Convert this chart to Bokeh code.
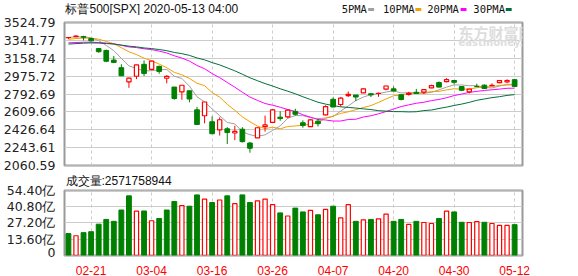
import numpy as np
from bokeh.plotting import figure
from bokeh.layouts import column
from bokeh.models import Range1d, FixedTicker, CustomJSTickFormatter, Label, AllLabels
from bokeh.core.properties import value
from bokeh.embed import file_html
from bokeh.resources import INLINE

title_text = "标普500[SPX] 2020-05-13 04:00"
last_volume = 2571758944

dates = ["02-18", "02-19", "02-20", "02-21", "02-24", "02-25", "02-26", "02-27", "02-28",
         "03-02", "03-03", "03-04", "03-05", "03-06", "03-09", "03-10", "03-11", "03-12", "03-13",
         "03-16", "03-17", "03-18", "03-19", "03-20", "03-23", "03-24", "03-25", "03-26", "03-27",
         "03-30", "03-31", "04-01", "04-02", "04-03", "04-06", "04-07", "04-08", "04-09",
         "04-13", "04-14", "04-15", "04-16", "04-17", "04-20", "04-21", "04-22", "04-23", "04-24",
         "04-27", "04-28", "04-29", "04-30", "05-01", "05-04", "05-05", "05-06", "05-07", "05-08",
         "05-11", "05-12"]

prior_closes = [3246.28, 3237.18, 3253.05, 3274.70, 3265.35, 3288.13, 3283.15, 3289.29, 3316.81,
                3329.62, 3320.79, 3321.75, 3325.54, 3295.47, 3243.63, 3276.24, 3273.40, 3283.66,
                3225.52, 3248.92, 3297.59, 3334.69, 3345.78, 3327.71, 3352.09, 3357.75, 3379.45,
                3373.94, 3380.16]

opens = [3369.04, 3380.39, 3380.45, 3360.50, 3257.61, 3238.94, 3139.90, 3062.54, 2916.90,
         2974.28, 3096.46, 3045.75, 3075.70, 2954.20, 2863.89, 2813.48, 2825.60, 2630.86, 2569.99,
         2508.59, 2425.66, 2436.50, 2393.48, 2431.94, 2290.71, 2344.44, 2457.77, 2501.29, 2555.87,
         2558.98, 2614.69, 2498.08, 2458.54, 2514.92, 2578.28, 2738.65, 2685.00, 2776.99,
         2782.46, 2805.10, 2795.64, 2799.34, 2842.43, 2845.62, 2784.81, 2787.89, 2810.42, 2812.64,
         2854.65, 2909.96, 2918.46, 2930.91, 2869.09, 2815.01, 2868.88, 2883.14, 2878.26, 2908.83,
         2915.46, 2939.50]
highs = [3375.01, 3393.52, 3389.15, 3360.76, 3259.81, 3246.99, 3182.51, 3097.07, 2959.72,
         3090.96, 3136.72, 3130.97, 3083.04, 2985.93, 2863.89, 2882.59, 2825.60, 2660.95, 2711.33,
         2562.98, 2553.93, 2453.57, 2466.97, 2453.01, 2300.73, 2449.71, 2571.42, 2637.01, 2615.91,
         2631.80, 2641.39, 2522.75, 2533.22, 2538.18, 2676.85, 2756.89, 2760.75, 2818.57,
         2782.46, 2851.85, 2801.88, 2806.51, 2879.22, 2868.98, 2785.54, 2815.10, 2844.90, 2842.71,
         2887.72, 2921.15, 2954.86, 2930.91, 2869.09, 2844.24, 2898.23, 2891.11, 2901.92, 2932.16,
         2944.25, 2945.82]
lows = [3355.61, 3378.83, 3341.02, 3328.45, 3214.65, 3118.77, 3108.99, 2977.39, 2855.84,
        2945.19, 2976.63, 3034.38, 2999.83, 2901.54, 2734.43, 2734.00, 2707.22, 2478.86, 2492.37,
        2380.94, 2367.04, 2280.52, 2319.78, 2295.56, 2191.86, 2344.44, 2407.53, 2500.72, 2520.02,
        2545.28, 2571.15, 2447.49, 2455.79, 2459.96, 2574.57, 2657.67, 2663.30, 2762.36,
        2721.17, 2805.10, 2761.54, 2764.32, 2830.88, 2820.43, 2727.10, 2775.95, 2794.26, 2791.76,
        2852.89, 2860.71, 2912.16, 2892.47, 2821.61, 2797.85, 2863.55, 2847.65, 2876.48, 2902.88,
        2903.44, 2869.59]
closes = [3370.29, 3386.15, 3373.23, 3337.75, 3225.89, 3128.21, 3116.39, 2978.76, 2954.22,
          3090.23, 3003.37, 3130.12, 3023.94, 2972.37, 2746.56, 2882.23, 2741.38, 2480.64, 2711.02,
          2386.13, 2529.19, 2398.10, 2409.39, 2304.92, 2237.40, 2447.33, 2475.56, 2630.07, 2541.47,
          2626.65, 2584.59, 2470.50, 2526.90, 2488.65, 2663.68, 2659.41, 2749.98, 2789.82,
          2761.63, 2846.06, 2783.36, 2799.55, 2874.56, 2823.16, 2736.56, 2799.31, 2797.80, 2836.74,
          2878.48, 2863.39, 2939.51, 2912.43, 2830.71, 2842.74, 2868.44, 2848.42, 2881.19, 2929.80,
          2930.32, 2870.12]

# volume in 亿 (1e8)
volumes = [18.2, 16.4, 19.0, 19.8, 26.1, 30.1, 28.5, 38.0, 49.9, 37.0, 37.2, 29.0, 30.9, 38.0,
           45.1, 41.7, 41.2, 50.7, 47.2, 44.3, 46.4, 49.9, 43.3, 50.7, 44.3, 45.7, 47.2, 42.5,
           35.6, 33.0, 39.6, 36.4, 37.7, 34.0, 38.5, 41.2, 31.4, 42.5, 28.5, 29.8, 30.1, 30.6,
           34.6, 28.5, 30.1, 25.9, 28.5, 27.5, 26.7, 30.9, 37.0, 36.4, 27.7, 27.5, 28.3, 27.7,
           26.7, 25.1, 25.1, 25.72]

tick_idx = [3, 11, 19, 27, 35, 43, 51, 59]
price_ticks = [2060.59, 2243.61, 2426.64, 2609.66, 2792.69, 2975.72, 3158.74, 3341.77, 3524.79]
vol_ticks = [0.0, 13.6, 27.2, 40.8, 54.4]
ma_periods = [5, 10, 20, 30]
ma_names = ["5PMA", "10PMA", "20PMA", "30PMA"]
ma_colors = ["#A0A0A0", "#F2A000", "#FF00FF", "#00703A"]

RED = "#FF0000"
GREEN = "#008000"
CJK = "Noto Sans CJK SC"

n = len(closes)
x = np.arange(n)
o = np.array(opens); h = np.array(highs); l = np.array(lows); c = np.array(closes)
prev = np.array([prior_closes[-1]] + closes[:-1])
up = c >= o
vol_up = c >= prev
allc = np.array(prior_closes + closes)
k0 = len(prior_closes)


def moving_avg(k):
    return np.array([allc[k0 + i - k + 1:k0 + i + 1].mean() for i in range(n)])


def style_left_axis(ax):
    ax.axis_line_color = None
    ax.major_tick_line_color = None
    ax.minor_tick_line_color = None
    ax.major_label_text_font = "DejaVu Sans"
    ax.major_label_text_font_size = "12.5px"
    ax.major_label_text_color = "#222222"
    ax.major_label_standoff = 3
    ax.major_label_policy = AllLabels()


xr = Range1d(-0.52, 60.04)

# ---------------- header strip (title + MA legend), pixel coordinates ----------------
hdr = figure(width=578, height=15, x_range=Range1d(56, 522), y_range=Range1d(15, 0),
             x_axis_location=None, y_axis_location=None, toolbar_location=None,
             output_backend="svg", min_border_left=56, min_border_right=56,
             min_border_top=0, min_border_bottom=0, outline_line_color=None)
hdr.grid.visible = False
hdr.text(x=[57], y=[8.3], text=[title_text], text_font=value("Liberation Sans"), text_font_size="12px",
         text_color="#111111", text_baseline="middle")
legend_x = [338, 380, 425, 472]
swatch_x = [365, 413, 459, 505]
hdr.text(x=legend_x, y=[8.5] * 4, text=ma_names, text_font=value("DejaVu Sans Mono"),
         text_font_size="10.5px", text_color="#111111", text_baseline="middle")
hdr.quad(left=swatch_x, right=[s + 6 for s in swatch_x], top=[7.5] * 4, bottom=[10.5] * 4,
         fill_color=ma_colors, line_color=None)

# ---------------- price panel ----------------
p1 = figure(width=578, height=158, x_range=xr, y_range=Range1d(price_ticks[0] - 0.01, price_ticks[-1] + 0.01),
            x_axis_location=None, toolbar_location=None, output_backend="svg",
            min_border_left=56, min_border_right=56, min_border_top=7, min_border_bottom=8)
p1.outline_line_color = "#999999"
p1.outline_line_width = 2
p1.yaxis.ticker = FixedTicker(ticks=price_ticks)
p1.yaxis.formatter = CustomJSTickFormatter(code="return tick.toFixed(2);")
style_left_axis(p1.yaxis[0])
p1.ygrid.grid_line_color = "#CCCCCC"
p1.xgrid.ticker = FixedTicker(ticks=tick_idx)
p1.xgrid.grid_line_color = "#CCCCCC"
p1.xgrid.grid_line_dash = "3 3"

# watermark
p1.add_layout(Label(x=394, y=133, x_units="screen", y_units="screen", text="东方财富网",
                    text_font=CJK, text_font_size="15px", text_font_style="bold",
                    text_color="#DDDDDD", text_baseline="middle", level="underlay"))
p1.add_layout(Label(x=394, y=123, x_units="screen", y_units="screen", text="eastmoney.com",
                    text_font="DejaVu Sans", text_font_size="10px", text_font_style="bold",
                    text_color="#DDDDDD", text_baseline="middle", level="underlay"))

for k, col in zip(ma_periods, ma_colors):
    p1.line(x, moving_avg(k), line_color=col, line_width=1)

# green candles
g = ~up
p1.segment(x[g], h[g], x[g], l[g], line_color=GREEN, line_width=1)
p1.vbar(x=x[g], top=o[g], bottom=c[g], width=0.62, fill_color=GREEN, line_color=GREEN, line_width=1)
# red candles (hollow)
p1.segment(x[up], h[up], x[up], l[up], line_color=RED, line_width=1)
p1.vbar(x=x[up], top=c[up], bottom=o[up], width=0.56, fill_color="white", line_color=RED, line_width=1.2)

# ---------------- volume panel ----------------
p2 = figure(width=578, height=86, x_range=xr, y_range=Range1d(-0.2, vol_ticks[-1] + 0.001),
            x_axis_location=None, toolbar_location=None, output_backend="svg",
            min_border_left=56, min_border_right=56, min_border_top=13, min_border_bottom=4)
p2.title.text = f"成交量:{last_volume}"
p2.title.align = "left"
p2.title.vertical_align = "top"
p2.title.offset = 1
p2.title.standoff = 1
p2.title.text_font = "Liberation Sans"
p2.title.text_font_size = "12px"
p2.title.text_font_style = "normal"
p2.title.text_color = "#111111"
p2.outline_line_color = "#999999"
p2.outline_line_width = 2
p2.yaxis.ticker = FixedTicker(ticks=vol_ticks)
p2.yaxis.formatter = CustomJSTickFormatter(code="return Math.abs(tick) < 0.5 ? '0' : tick.toFixed(2) + '亿';")
style_left_axis(p2.yaxis[0])
p2.ygrid.grid_line_color = "#CCCCCC"
p2.xgrid.ticker = FixedTicker(ticks=tick_idx)
p2.xgrid.grid_line_color = "#CCCCCC"
p2.xgrid.grid_line_dash = "3 3"

vol = np.array(volumes)
vg = ~vol_up
p2.vbar(x=x[vg], top=vol[vg], bottom=0, width=0.64, fill_color=GREEN, line_color=GREEN, line_width=1)
p2.vbar(x=x[vol_up], top=vol[vol_up], bottom=0, width=0.56, fill_color="white", line_color=RED, line_width=1.2)

# ---------------- date axis strip ----------------
xs = figure(width=578, height=17, x_range=xr, y_range=Range1d(0, 1),
            y_axis_location=None, x_axis_location="below", toolbar_location=None,
            output_backend="svg", min_border_left=56, min_border_right=56,
            min_border_top=0, min_border_bottom=2, outline_line_color=None)
xs.grid.visible = False
xs.xaxis.ticker = FixedTicker(ticks=tick_idx)
xs.xaxis.major_label_overrides = {i: dates[i] for i in tick_idx}
xs.xaxis.major_label_policy = AllLabels()
xs.xaxis.axis_line_color = None
xs.xaxis.major_tick_line_color = None
xs.xaxis.minor_tick_line_color = None
xs.xaxis.major_label_text_font = "Liberation Sans"
xs.xaxis.major_label_text_font_size = "12px"
xs.xaxis.major_label_text_color = RED
xs.xaxis.major_label_standoff = 0

layout = column(hdr, p1, p2, xs, spacing=0)
open("out.html", "w").write(file_html(layout, INLINE))
